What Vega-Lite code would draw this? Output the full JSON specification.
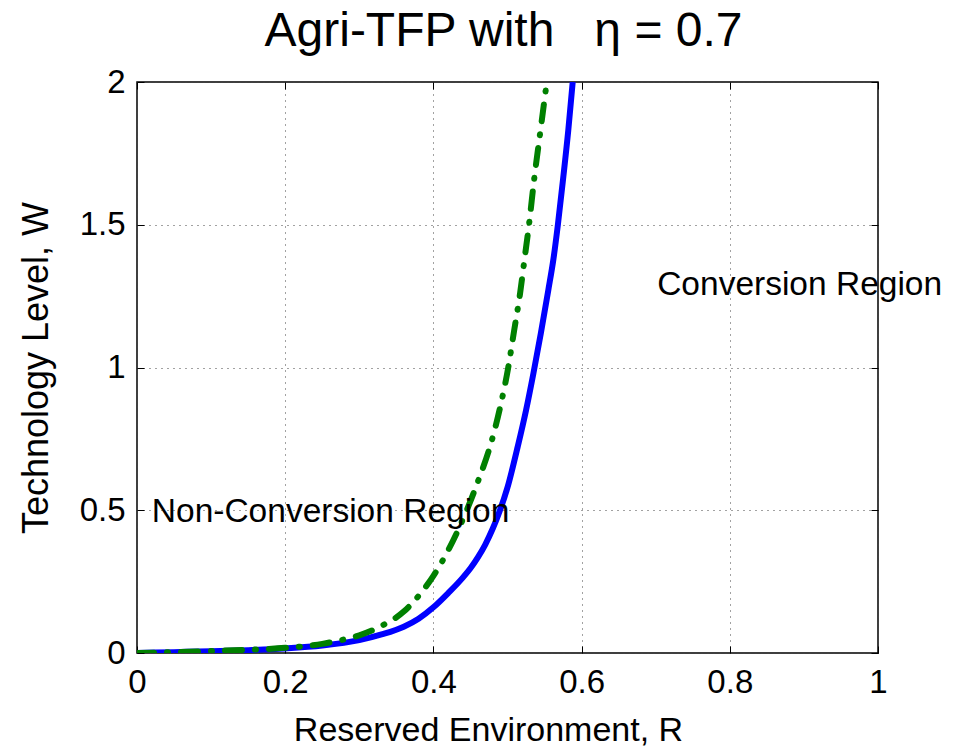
{
  "$schema": "https://vega.github.io/schema/vega-lite/v6.json",
  "autosize": {"type": "none"},
  "width": 741,
  "height": 571,
  "padding": {"left": 137, "top": 82, "right": 85, "bottom": 96},
  "background": "white",
  "title": {
    "text": "Agri-TFP with \u00a0\u00a0η = 0.7",
    "fontSize": 48,
    "font": "Liberation Sans",
    "fontWeight": "normal",
    "color": "black",
    "anchor": "middle",
    "frame": "group",
    "baseline": "bottom",
    "offset": -47,
    "dx": -4
  },
  "config": {
    "font": "Liberation Sans",
    "view": {"stroke": "black", "strokeWidth": 1.5},
    "axis": {
      "labelFont": "Liberation Sans",
      "titleFont": "Liberation Sans",
      "labelColor": "black",
      "titleColor": "black",
      "titleFontWeight": "normal",
      "labelFlush": false,
      "labelOverlap": false,
      "domain": false,
      "tickColor": "black",
      "tickSize": -7,
      "tickWidth": 1,
      "gridColor": "#444",
      "gridDash": [1, 5],
      "gridWidth": 1,
      "gridOpacity": 1
    }
  },
  "datasets": {
    "curves": [
      {"series": "blue", "R": 0, "W": 0},
      {"series": "blue", "R": 0.05, "W": 0.003},
      {"series": "blue", "R": 0.1, "W": 0.006},
      {"series": "blue", "R": 0.15, "W": 0.01},
      {"series": "blue", "R": 0.2, "W": 0.016},
      {"series": "blue", "R": 0.25, "W": 0.026},
      {"series": "blue", "R": 0.3, "W": 0.045},
      {"series": "blue", "R": 0.33, "W": 0.065},
      {"series": "blue", "R": 0.36, "W": 0.092},
      {"series": "blue", "R": 0.38, "W": 0.12},
      {"series": "blue", "R": 0.4, "W": 0.16},
      {"series": "blue", "R": 0.42, "W": 0.21},
      {"series": "blue", "R": 0.44, "W": 0.265},
      {"series": "blue", "R": 0.45, "W": 0.297},
      {"series": "blue", "R": 0.46, "W": 0.335},
      {"series": "blue", "R": 0.47, "W": 0.38},
      {"series": "blue", "R": 0.48, "W": 0.435},
      {"series": "blue", "R": 0.487, "W": 0.48},
      {"series": "blue", "R": 0.5, "W": 0.58},
      {"series": "blue", "R": 0.514, "W": 0.725},
      {"series": "blue", "R": 0.525, "W": 0.85},
      {"series": "blue", "R": 0.535, "W": 0.98},
      {"series": "blue", "R": 0.545, "W": 1.12},
      {"series": "blue", "R": 0.555, "W": 1.27},
      {"series": "blue", "R": 0.562, "W": 1.38},
      {"series": "blue", "R": 0.568, "W": 1.5},
      {"series": "blue", "R": 0.575, "W": 1.66},
      {"series": "blue", "R": 0.582, "W": 1.83},
      {"series": "blue", "R": 0.588, "W": 2.0},
      {"series": "green", "R": 0, "W": 0},
      {"series": "green", "R": 0.05, "W": 0.003},
      {"series": "green", "R": 0.1, "W": 0.007},
      {"series": "green", "R": 0.15, "W": 0.011},
      {"series": "green", "R": 0.2, "W": 0.018},
      {"series": "green", "R": 0.25, "W": 0.032},
      {"series": "green", "R": 0.28, "W": 0.048},
      {"series": "green", "R": 0.3, "W": 0.062},
      {"series": "green", "R": 0.33, "W": 0.095},
      {"series": "green", "R": 0.36, "W": 0.145},
      {"series": "green", "R": 0.38, "W": 0.2},
      {"series": "green", "R": 0.4, "W": 0.27},
      {"series": "green", "R": 0.42, "W": 0.36},
      {"series": "green", "R": 0.445, "W": 0.5},
      {"series": "green", "R": 0.46, "W": 0.6},
      {"series": "green", "R": 0.479, "W": 0.746},
      {"series": "green", "R": 0.49, "W": 0.86},
      {"series": "green", "R": 0.501, "W": 1.0},
      {"series": "green", "R": 0.509, "W": 1.13},
      {"series": "green", "R": 0.517, "W": 1.26},
      {"series": "green", "R": 0.523, "W": 1.38},
      {"series": "green", "R": 0.529, "W": 1.5},
      {"series": "green", "R": 0.536, "W": 1.66},
      {"series": "green", "R": 0.545, "W": 1.84},
      {"series": "green", "R": 0.553, "W": 2.0}
    ],
    "notes": [
      {"label": "Conversion Region", "R": 0.702, "W": 1.29},
      {"label": "Non-Conversion Region", "R": 0.02, "W": 0.494}
    ]
  },
  "resolve": {"axis": {"x": "independent", "y": "independent"}},
  "layer": [
    {
      "data": {"name": "curves"},
      "transform": [{"filter": "datum.series === 'blue'"}],
      "mark": {"type": "line", "color": "#0000ff", "strokeWidth": 6, "interpolate": "monotone", "clip": true},
      "encoding": {
        "x": {
          "field": "R", "type": "quantitative",
          "scale": {"domain": [0, 1], "nice": false, "zero": false},
          "axis": {
            "orient": "bottom",
            "title": "Reserved Environment, R",
            "values": [0, 0.2, 0.4, 0.6, 0.8, 1],
            "format": "~g",
            "labelFontSize": 33,
            "titleFontSize": 34,
            "labelPadding": 20,
            "titlePadding": 14,
            "titleX": 351,
            "grid": true
          }
        },
        "y": {
          "field": "W", "type": "quantitative",
          "scale": {"domain": [0, 2], "nice": false, "zero": false},
          "axis": {
            "orient": "left",
            "title": "Technology Level, W",
            "values": [0, 0.5, 1, 1.5, 2],
            "format": "~g",
            "labelFontSize": 33,
            "titleFontSize": 36,
            "labelPadding": 19,
            "titlePadding": 24,
            "grid": true
          }
        }
      }
    },
    {
      "data": {"name": "curves"},
      "transform": [{"filter": "datum.series === 'green'"}],
      "mark": {"type": "line", "color": "#008000", "strokeWidth": 6, "strokeCap": "round", "strokeDash": [17, 13, 1, 13], "interpolate": "monotone", "clip": true},
      "encoding": {
        "x": {
          "field": "R", "type": "quantitative",
          "axis": {"orient": "top", "title": null, "labels": false, "grid": false, "minExtent": 25, "maxExtent": 25, "values": [0, 0.2, 0.4, 0.6, 0.8, 1]}
        },
        "y": {
          "field": "W", "type": "quantitative",
          "axis": {"orient": "right", "title": null, "labels": false, "grid": false, "values": [0, 0.5, 1, 1.5, 2]}
        }
      }
    },
    {
      "data": {"name": "notes"},
      "mark": {"type": "text", "align": "left", "baseline": "middle", "fontSize": 33.5, "font": "Liberation Sans", "color": "black"},
      "encoding": {
        "x": {"field": "R", "type": "quantitative", "axis": null},
        "y": {"field": "W", "type": "quantitative", "axis": null},
        "text": {"field": "label"}
      }
    }
  ]
}
